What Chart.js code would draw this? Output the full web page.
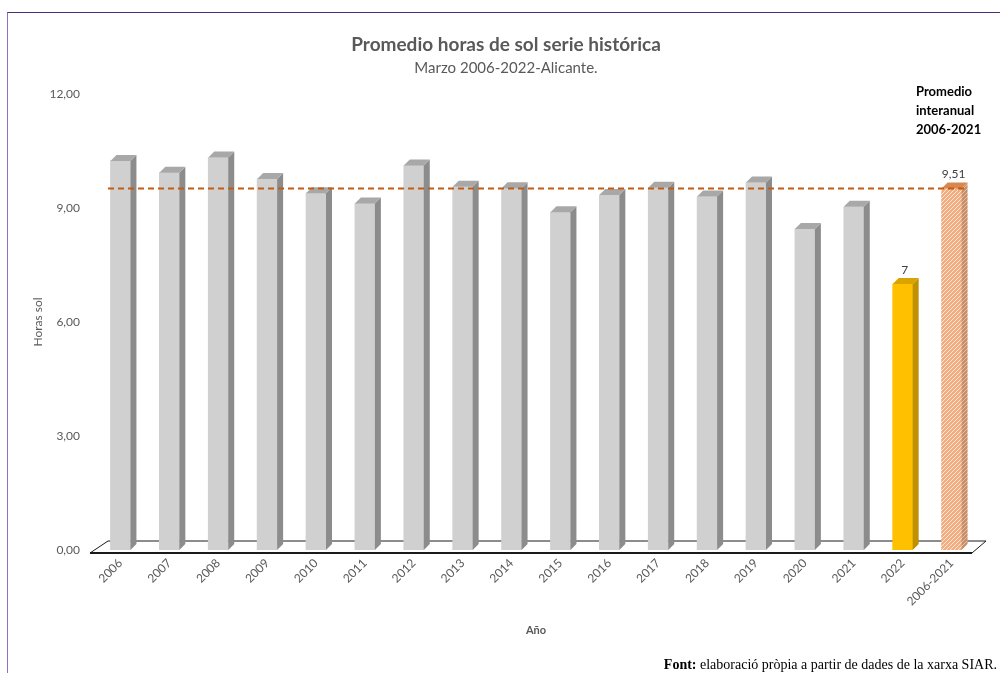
<!DOCTYPE html>
<html>
<head>
<meta charset="utf-8">
<title>Promedio horas de sol</title>
<script src="https://cdn.jsdelivr.net/npm/chart.js@4.4.1/dist/chart.umd.min.js"></script>
<style>
  html, body { margin: 0; padding: 0; background: #fff; }
  #wrap { position: relative; width: 1000px; height: 673px; }
  #frame {
    position: absolute; left: 7px; top: 12px; right: 0; bottom: 0;
    border-top: 1.5px solid #4b2a7f; border-left: 1px solid #8e72c2;
    pointer-events: none;
  }
</style>
</head>
<body>
<div id="wrap">
  <canvas id="sun-chart"></canvas>
  <div id="frame"></div>
</div>
<script>
const years = ['2006', '2007', '2008', '2009', '2010', '2011', '2012', '2013', '2014',
  '2015', '2016', '2017', '2018', '2019', '2020', '2021', '2022', '2006-2021'];
const hours = [10.24, 9.93, 10.33, 9.76, 9.39, 9.12, 10.12, 9.56, 9.52,
  8.89, 9.34, 9.53, 9.30, 9.67, 8.45, 9.03, 7, 9.51];
const avgHours = 9.51;
const labelledYears = ['2022', '2006-2021'];
const yTicks = [0, 3, 6, 9, 12];

const chartTitle = 'Promedio horas de sol serie histórica';
const chartSubtitle = 'Marzo 2006-2022-Alicante.';
const noteLines = ['Promedio', 'interanual', '2006-2021'];

const FONT = 'Lato, "Open Sans", sans-serif';
Chart.defaults.font.family = FONT;
Chart.defaults.color = '#595959';

const canvas = document.getElementById('sun-chart');
const ctx = canvas.getContext('2d');

// diagonal hatch used by the interannual mean bar
function hatch(base, stripe) {
  const c = document.createElement('canvas');
  c.width = 4; c.height = 4;
  const g = c.getContext('2d');
  g.fillStyle = base;
  g.fillRect(0, 0, 4, 4);
  g.strokeStyle = stripe;
  g.lineWidth = 1;
  g.beginPath();
  g.moveTo(0, 4); g.lineTo(4, 0);
  g.moveTo(-1, 1); g.lineTo(1, -1);
  g.moveTo(3, 5); g.lineTo(5, 3);
  g.stroke();
  return ctx.createPattern(c, 'repeat');
}

const frontColors = years.map(y => y === '2022' ? '#FFC000' : y === '2006-2021' ? hatch('#F2AE80', '#FCE6D8') : '#D0D0D0');
const sideColors = years.map(y => y === '2022' ? '#BF9000' : y === '2006-2021' ? hatch('#C98E68', '#E6C0A6') : '#8C8C8C');
const topColors = years.map(y => y === '2022' ? '#D9A300' : y === '2006-2021' ? '#D8874F' : '#A8A8A8');

const DEPTH = 6;

const bar3d = {
  id: 'bar3d',
  beforeDatasetsDraw(chart) {
    // floor of the 3D plot
    const { ctx, chartArea } = chart;
    const y0 = chart.scales.y.getPixelForValue(0);
    const l = chartArea.left, r = chartArea.right;
    ctx.save();
    ctx.fillStyle = '#fff';
    ctx.strokeStyle = '#1a1a1a';
    ctx.lineWidth = 1;
    ctx.beginPath();
    ctx.moveTo(l - 6, y0 + 3);
    ctx.lineTo(l + 12, y0 - 9);
    ctx.lineTo(r + 10, y0 - 9);
    ctx.lineTo(r - 4, y0 + 3);
    ctx.closePath();
    ctx.fill();
    ctx.stroke();
    ctx.lineWidth = 2;
    ctx.beginPath();
    ctx.moveTo(l - 6, y0 + 3);
    ctx.lineTo(r - 4, y0 + 3);
    ctx.stroke();
    ctx.restore();
  },
  afterDatasetDraw(chart, args) {
    if (args.index !== 0) return;
    const { ctx } = chart;
    const meta = chart.getDatasetMeta(0);
    ctx.save();
    meta.data.forEach((bar, i) => {
      const half = bar.width / 2;
      const xl = bar.x - half, xr = bar.x + half;
      // right side face
      ctx.fillStyle = sideColors[i];
      ctx.beginPath();
      ctx.moveTo(xr, bar.y);
      ctx.lineTo(xr + DEPTH, bar.y - DEPTH);
      ctx.lineTo(xr + DEPTH, bar.base - DEPTH);
      ctx.lineTo(xr, bar.base);
      ctx.closePath();
      ctx.fill();
      // top face
      ctx.fillStyle = topColors[i];
      ctx.beginPath();
      ctx.moveTo(xl, bar.y);
      ctx.lineTo(xl + DEPTH, bar.y - DEPTH);
      ctx.lineTo(xr + DEPTH, bar.y - DEPTH);
      ctx.lineTo(xr, bar.y);
      ctx.closePath();
      ctx.fill();
    });
    ctx.restore();
  },
  afterDatasetsDraw(chart) {
    const { ctx, chartArea } = chart;
    const yScale = chart.scales.y;
    // interannual mean line
    const ya = yScale.getPixelForValue(avgHours);
    ctx.save();
    ctx.strokeStyle = '#C55A11';
    ctx.lineWidth = 2;
    ctx.setLineDash([6, 4]);
    ctx.beginPath();
    ctx.moveTo(chartArea.left + 12, ya);
    ctx.lineTo(chartArea.right - 8, ya);
    ctx.stroke();
    ctx.setLineDash([]);

    // value labels
    const meta = chart.getDatasetMeta(0);
    ctx.fillStyle = '#404040';
    ctx.font = '12px ' + FONT;
    ctx.textAlign = 'center';
    ctx.textBaseline = 'middle';
    years.forEach((y, i) => {
      if (!labelledYears.includes(y)) return;
      const bar = meta.data[i];
      ctx.fillText(String(hours[i]).replace('.', ','), bar.x + 2, bar.y - 14);
    });

    // note over the mean bar
    ctx.fillStyle = '#000';
    ctx.font = 'bold 13px ' + FONT;
    ctx.textAlign = 'left';
    noteLines.forEach((t, k) => {
      ctx.fillText(t, 916, 92 + k * 19);
    });
    ctx.restore();
  },
  afterDraw(chart) {
    const { ctx } = chart;
    ctx.save();
    // titles
    ctx.fillStyle = '#595959';
    ctx.textAlign = 'center';
    ctx.textBaseline = 'middle';
    ctx.font = 'bold 19px ' + FONT;
    ctx.fillText(chartTitle, 506, 45);
    ctx.font = '15px ' + FONT;
    ctx.fillText(chartSubtitle, 506, 68);

    // source line
    ctx.fillStyle = '#000';
    ctx.textBaseline = 'alphabetic';
    ctx.textAlign = 'left';
    const boldPart = 'Font:';
    const restPart = ' elaboració pròpia a partir de dades de la xarxa SIAR.';
    ctx.font = 'bold 14px "Liberation Serif", serif';
    const w1 = ctx.measureText(boldPart).width;
    ctx.font = '14px "Liberation Serif", serif';
    const w2 = ctx.measureText(restPart).width;
    const x0 = 997 - w1 - w2;
    ctx.font = 'bold 14px "Liberation Serif", serif';
    ctx.fillText(boldPart, x0, 669);
    ctx.font = '14px "Liberation Serif", serif';
    ctx.fillText(restPart, x0 + w1, 669);
    ctx.restore();
  }
};

new Chart(canvas, {
  type: 'bar',
  data: {
    labels: years,
    datasets: [{
      label: 'Horas sol',
      data: hours,
      backgroundColor: frontColors,
      barThickness: 20,
      borderWidth: 0
    }]
  },
  options: {
    responsive: true,
    maintainAspectRatio: false,
    animation: false,
    layout: { padding: { top: 94, right: 24 } },
    plugins: {
      legend: { display: false },
      tooltip: { enabled: false },
      title: { display: false }
    },
    scales: {
      x: {
        grid: { display: false, drawTicks: false },
        border: { display: false },
        ticks: { minRotation: 45, maxRotation: 45, padding: 6, font: { size: 12 } },
        title: {
          display: true,
          text: 'Año',
          font: { size: 11, weight: 'bold' },
          padding: { top: 4, bottom: 36 }
        },
        afterFit(scale) { scale.height = 123; }
      },
      y: {
        min: 0,
        max: 12,
        afterBuildTicks(scale) { scale.ticks = yTicks.map(v => ({ value: v })); },
        grid: { display: false, drawTicks: false },
        border: { display: false },
        ticks: {
          padding: 16,
          font: { size: 12 },
          callback: v => v.toFixed(2).replace('.', ',')
        },
        title: {
          display: true,
          text: 'Horas sol',
          font: { size: 12 },
          padding: { top: 31, bottom: 0 }
        },
        afterFit(scale) { scale.width = 96; }
      }
    }
  },
  plugins: [bar3d]
});
</script>
</body>
</html>
